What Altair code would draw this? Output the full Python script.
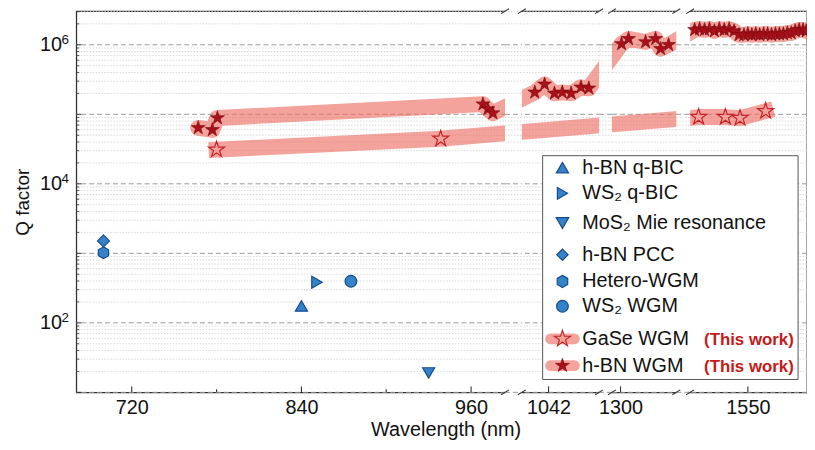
import altair as alt
import pandas as pd

W, H = 738, 385
FONT = "Liberation Sans"
BAND = "#ec6a60"
STAR = "#a8101a"
STAR_EDGE = "#7a0a10"
GASE_EDGE = "#c4232b"
BLUE = "#3483c8"
BLUE_EDGE = "#174a8c"

# ---------------- data ----------------
ref_names = ["h-BN q-BIC", "WS₂ q-BIC", "MoS₂ Mie resonance", "h-BN PCC", "Hetero-WGM", "WS₂ WGM"]
ref_wl = [840, 851, 930, 700, 700, 875]
ref_q = [175, 383, 19, 1510, 1020, 396]

gase_wl = [780, 938.5, 1515, 1534, 1544.4, 1562.6]
gase_q = [31000, 44500, 91400, 91400, 88400, 111000]

hbn_wl = [767.0, 777.0, 780.6, 968.4, 971.9, 975.4,
          1032.2, 1039.2, 1046.2, 1051.8, 1058.1, 1065.1, 1070.7,
          1300.7, 1305.6, 1317.5, 1324.5, 1328.0, 1333.6,
          1512.2, 1515.7, 1519.2, 1522.7, 1526.2, 1529.7, 1533.2, 1536.7, 1540.2,
          1543.7, 1547.2, 1550.0, 1552.8, 1555.6, 1558.4, 1561.2, 1564.0, 1566.8,
          1569.6, 1572.4, 1575.2, 1578.0, 1580.8, 1583.6, 1586.4, 1589.2, 1591.5]
hbn_q = [63800, 59800, 88500, 140000, 119000, 104000,
         207000, 270000, 200000, 207000, 200000, 245000, 237000,
         1030000, 1220000, 1100000, 1220000, 877000, 1000000,
         1640000, 1690000, 1640000, 1690000, 1580000, 1690000, 1640000, 1690000, 1580000,
         1390000, 1390000, 1430000, 1390000, 1430000, 1390000, 1430000, 1430000, 1390000,
         1430000, 1430000, 1430000, 1480000, 1480000, 1580000, 1640000, 1640000, 1580000]

x_ticks_major = [720, 840, 960, 1042, 1300, 1550]
x_ticks_minor = [780, 900]
y_label_vals = [100, 10000, 1000000]
y_label_exp = ["2", "4", "6"]
y_decades = [10, 100, 1000, 10000, 100000, 1000000]
y_minor = [m * d for d in [10, 100, 1000, 10000, 100000, 1000000] for m in range(2, 10) if m * d <= 3.05e6]

# broken-axis segments: (start, end) of each hidden wavelength range
breaks = [(984, 1023), (1078, 1294), (1339, 1509)]
x_domain = [680.8, 984, 1023, 1078, 1294, 1339, 1509, 1592]
x_range = [0, 433, 450, 528, 541, 606, 620, 738]

# ---------------- frames ----------------
df_ref = pd.DataFrame({"name": ref_names, "wl": ref_wl, "q": ref_q})
df_gase = pd.DataFrame({"wl": gase_wl, "q": gase_q})
df_hbn = pd.DataFrame({"wl": hbn_wl, "q": hbn_q})
df_major = pd.DataFrame({"q": y_decades})
df_minor = pd.DataFrame({"q": y_minor})
df_gaps = pd.DataFrame({"s": [b[0] for b in breaks], "e": [b[1] for b in breaks]})
df_gap_major = pd.DataFrame([{"s": s, "e": e, "q": q} for s, e in breaks for q in y_decades])
df_gap_minor = pd.DataFrame([{"s": s, "e": e, "q": q} for s, e in breaks for q in y_minor])
df_edges = pd.DataFrame({"v": [v for b in breaks for v in b]})
df_xmaj = pd.DataFrame({"v": x_ticks_major})
df_xmin = pd.DataFrame({"v": x_ticks_minor})
df_ylab = pd.DataFrame({"q": y_label_vals, "t": y_label_exp})
one = pd.DataFrame({"a": [0]})

xscale = alt.Scale(type="linear", domain=x_domain, range=x_range, nice=False, zero=False)
yscale = alt.Scale(type="log", domain=[10, 3.05e6], nice=False)

xaxis = alt.Axis(values=x_ticks_major, format="d", title="Wavelength (nm)", ticks=False, domain=False,
                 grid=False, labelFontSize=20, titleFontSize=20, labelPadding=5,
                 titlePadding=3, labelColor="#111", titleColor="#111", titleX=373,
                 titleAlign="center", titleFontWeight="normal", labelOverlap=False, labelFlush=False)
yaxis = alt.Axis(values=y_label_vals, labelExpr="'10'", title="Q factor", ticks=False,
                 domain=False, grid=False, labelFontSize=20, labelPadding=15,
                 titleFontSize=19, titlePadding=7, labelColor="#111", titleColor="#111",
                 titleFontWeight="normal")

X = lambda f: alt.X(f, scale=xscale, axis=xaxis)
Y = lambda f: alt.Y(f, scale=yscale, axis=yaxis)

layers = []
# full grid (under bands)
layers.append(alt.Chart(df_minor).mark_rule(color="#cfcfcf", strokeWidth=0.8, strokeDash=[1.5, 1.5]).encode(y=Y("q:Q")))
layers.append(alt.Chart(df_major).mark_rule(color="#999999", strokeWidth=1, strokeDash=[5, 3]).encode(y=Y("q:Q")))

# bands
layers.append(alt.Chart(df_gase).mark_line(color=BAND, strokeWidth=16, strokeCap="square",
                                           strokeJoin="round", strokeOpacity=0.62)
              .encode(x=X("wl:Q"), y=Y("q:Q")))
layers.append(alt.Chart(df_hbn).mark_line(color=BAND, strokeWidth=16, strokeCap="round",
                                          strokeJoin="round", strokeOpacity=0.62)
              .encode(x=X("wl:Q"), y=Y("q:Q")))

# gaps of the broken axis
layers.append(alt.Chart(df_gaps).mark_rect(fill="white")
              .encode(x=X("s:Q"), x2="e:Q", y=alt.value(-3), y2=alt.value(H + 3)))
layers.append(alt.Chart(df_gap_minor).mark_rule(color="#cfcfcf", strokeWidth=0.8, strokeDash=[1.5, 1.5])
              .encode(x=X("s:Q"), x2="e:Q", y=Y("q:Q")))
layers.append(alt.Chart(df_gap_major).mark_rule(color="#999999", strokeWidth=1, strokeDash=[5, 3])
              .encode(x=X("s:Q"), x2="e:Q", y=Y("q:Q")))

# break marks
for y0 in (0, H):
    layers.append(alt.Chart(df_edges).mark_rule(color="#333", strokeWidth=1.1, xOffset=-4, x2Offset=4)
                  .encode(x=X("v:Q"), x2="v:Q", y=alt.value(y0 + 2.5), y2=alt.value(y0 - 2.5)))

# inward ticks
layers.append(alt.Chart(df_xmaj).mark_rule(color="#333", strokeWidth=1.1)
              .encode(x=X("v:Q"), y=alt.value(H), y2=alt.value(H - 6)))
layers.append(alt.Chart(df_xmin).mark_rule(color="#333", strokeWidth=1.1)
              .encode(x=X("v:Q"), y=alt.value(H), y2=alt.value(H - 3)))
layers.append(alt.Chart(df_major).mark_rule(color="#333", strokeWidth=1)
              .encode(y=Y("q:Q"), x=alt.value(0), x2=alt.value(5)))
layers.append(alt.Chart(df_minor).mark_rule(color="#333", strokeWidth=0.8)
              .encode(y=Y("q:Q"), x=alt.value(0), x2=alt.value(3)))

# exponents of the y labels
layers.append(alt.Chart(df_ylab).mark_text(align="left", baseline="middle", fontSize=13.5, dy=-5, color="#111")
              .encode(y=Y("q:Q"), x=alt.value(-15), text="t:N"))

# markers
STAR_PATH = "M0,-1L0.2245,-0.309L0.951,-0.309L0.363,0.118L0.588,0.809L0,0.382L-0.588,0.809L-0.363,0.118L-0.951,-0.309L-0.2245,-0.309Z"
HEX_PATH = "M0,-1L0.866,-0.5L0.866,0.5L0,1L-0.866,0.5L-0.866,-0.5Z"
DIA_PATH = "M0,-1L1,0L0,1L-1,0Z"
ref_shapes = ["triangle-up", "triangle-right", "triangle-down", DIA_PATH, HEX_PATH, "circle"]
ref_sizes = [150, 140, 160, 130, 150, 140]

layers.append(alt.Chart(df_ref).mark_point(filled=True, fill=BLUE, stroke=BLUE_EDGE, strokeWidth=1.2, opacity=1)
              .encode(x=X("wl:Q"), y=Y("q:Q"),
                      shape=alt.Shape("name:N", scale=alt.Scale(domain=ref_names, range=ref_shapes), legend=None),
                      size=alt.Size("name:N", scale=alt.Scale(domain=ref_names, range=ref_sizes), legend=None)))
layers.append(alt.Chart(df_gase).mark_point(shape=STAR_PATH, size=290, filled=False, stroke=GASE_EDGE,
                                            strokeWidth=1.2, opacity=1)
              .encode(x=X("wl:Q"), y=Y("q:Q")))
layers.append(alt.Chart(df_hbn).mark_point(shape=STAR_PATH, size=220, filled=True, fill=STAR,
                                           stroke=STAR_EDGE, strokeWidth=0.6, opacity=1)
              .encode(x=X("wl:Q"), y=Y("q:Q")))

# ---------------- legend ----------------
LX0, LX1, LY0, LY1 = 471, 729, 146, 372
leg_y = [158, 184, 214, 246, 273, 298, 331, 358]
MX, TX = 491, 511
LFS = 20
layers.append(alt.Chart(one).mark_rect(fill="white", stroke="#555", strokeWidth=1)
              .encode(x=alt.value(LX0), x2=alt.value(LX1), y=alt.value(LY0), y2=alt.value(LY1)))
for name, shp, sz, yy in zip(ref_names, ref_shapes, ref_sizes, leg_y[:6]):
    layers.append(alt.Chart(one).mark_point(shape=shp, size=sz, filled=True, fill=BLUE, stroke=BLUE_EDGE,
                                            strokeWidth=1.2, opacity=1)
                  .encode(x=alt.value(MX), y=alt.value(yy)))
    layers.append(alt.Chart(one).mark_text(text=name, align="left", baseline="middle", fontSize=LFS, color="#111")
                  .encode(x=alt.value(TX), y=alt.value(yy)))

work_names = ["GaSe WGM", "h-BN WGM"]
for i, name in enumerate(work_names):
    yy = leg_y[6 + i]
    layers.append(alt.Chart(one).mark_rule(color=BAND, strokeWidth=11, strokeCap="round", strokeOpacity=0.62)
                  .encode(x=alt.value(479), x2=alt.value(503), y=alt.value(yy)))
    if i == 0:
        layers.append(alt.Chart(one).mark_point(shape=STAR_PATH, size=290, filled=False, stroke=GASE_EDGE,
                                                strokeWidth=1.2, opacity=1)
                      .encode(x=alt.value(MX), y=alt.value(yy)))
    else:
        layers.append(alt.Chart(one).mark_point(shape=STAR_PATH, size=220, filled=True, fill=STAR,
                                                stroke=STAR_EDGE, strokeWidth=0.6, opacity=1)
                      .encode(x=alt.value(MX), y=alt.value(yy)))
    layers.append(alt.Chart(one).mark_text(text=name, align="left", baseline="middle", fontSize=LFS, color="#111")
                  .encode(x=alt.value(TX), y=alt.value(yy)))
    layers.append(alt.Chart(one).mark_text(text="(This work)", align="left", baseline="middle", fontSize=17,
                                           fontWeight="bold", color="#c41a1a")
                  .encode(x=alt.value(634), y=alt.value(yy + 1)))

chart = (alt.layer(*layers)
         .properties(width=W, height=H,
                     padding={"left": 69, "top": 1, "right": 0, "bottom": 50},
                     autosize=alt.AutoSizeParams(type="none"))
         .configure(font=FONT)
         .configure_view(stroke="#333", strokeWidth=1.3))

chart.save("out.html", embed_options={"renderer": "svg", "actions": False})
